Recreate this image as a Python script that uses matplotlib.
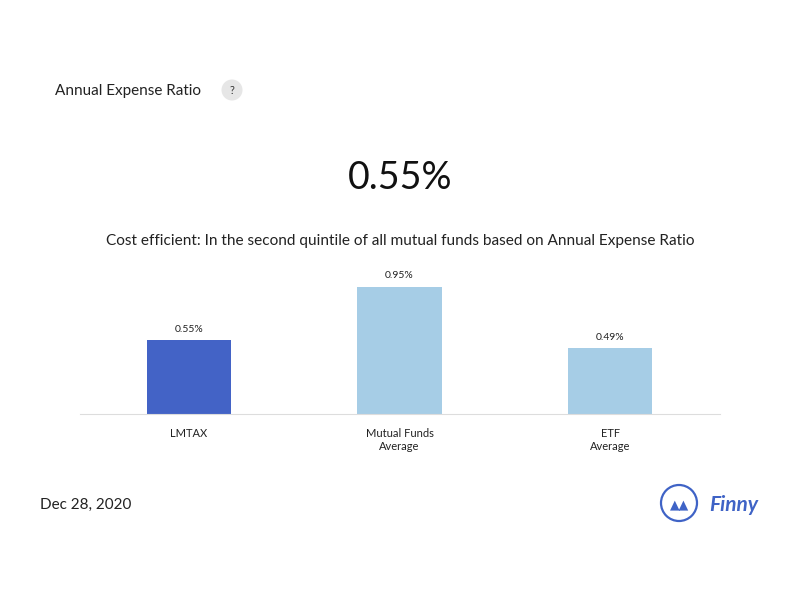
import matplotlib
matplotlib.use("Agg")
import matplotlib.pyplot as plt
from matplotlib.patches import Circle

categories = ["LMTAX", "Mutual Funds\nAverage", "ETF\nAverage"]
values = [0.55, 0.95, 0.49]
labels = ["0.55%", "0.95%", "0.49%"]
colors = ["#4363c6", "#a6cde6", "#a6cde6"]

plt.rcParams["font.family"] = "Lato"
fig = plt.figure(figsize=(8, 6), dpi=100)
W, H = 800, 600
def fx(x): return x / W
def fy(y): return 1 - y / H

fig.text(fx(55), fy(91), "Annual Expense Ratio", fontsize=11, va="center", color="#222222")
q = Circle((2.32, 6 - 0.90), 0.105, transform=fig.dpi_scale_trans,
           facecolor="#e6e6e6", edgecolor="none")
fig.patches.append(q)
fig.text(fx(232), fy(90), "?", fontsize=8, ha="center", va="center", color="#333333")
fig.text(0.5, fy(178), "0.55%", fontsize=27, ha="center", va="center", color="#111111")
fig.text(0.5, fy(241), "Cost efficient: In the second quintile of all mutual funds based on Annual Expense Ratio",
         fontsize=11.1, ha="center", va="center", color="#222222")
fig.text(fx(40), fy(505), "Dec 28, 2020", fontsize=11, va="center", color="#222222")

logo = Circle((6.79, 6 - 5.03), 0.18, transform=fig.dpi_scale_trans,
              facecolor="white", edgecolor="#3f63c6", linewidth=1.6)
fig.patches.append(logo)
fig.text(fx(680), fy(505), "\u25B2\u25B2", fontsize=9, ha="center", va="center",
         color="#3f63c6", fontfamily="DejaVu Sans")
fig.text(fx(709), fy(505), "Finny", fontsize=15, fontweight="bold", style="italic",
         va="center", color="#3f63c6")

ax = fig.add_axes([fx(80), fy(414), 640 / W, 150 / H])
x = range(len(categories))
bars = ax.bar(x, values, width=0.4, color=colors)
for b, l in zip(bars, labels):
    ax.text(b.get_x() + b.get_width() / 2, b.get_height() + 0.05, l,
            ha="center", va="bottom", fontsize=7.5, color="#222222")
ax.set_xlim(-0.517, 2.521)
ax.set_ylim(0, 1.122)
ax.set_xticks(list(x))
ax.set_xticklabels(categories, fontsize=8, color="#222222")
ax.tick_params(axis="x", length=0, pad=10)
ax.set_yticks([])
for s in ["top", "right", "left"]:
    ax.spines[s].set_visible(False)
ax.spines["bottom"].set_color("#dddddd")

fig.savefig("out.png", dpi=100)
